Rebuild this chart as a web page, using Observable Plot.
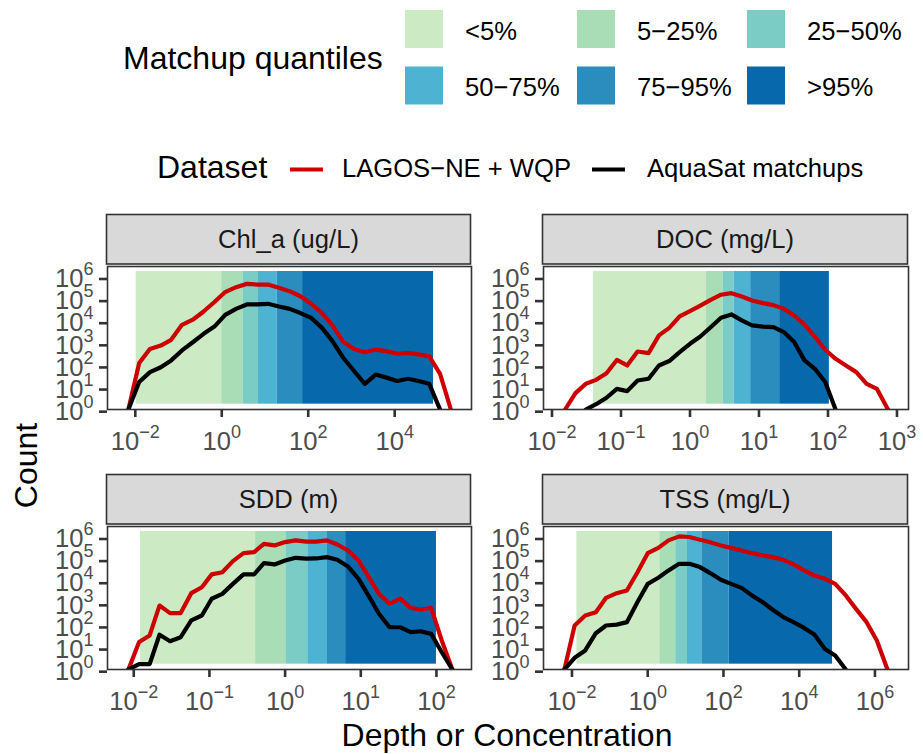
<!DOCTYPE html>
<html>
<head>
<meta charset="utf-8">
<script src="https://cdn.jsdelivr.net/npm/d3@7"></script>
<script src="https://cdn.jsdelivr.net/npm/@observablehq/plot@0.6"></script>
<style>
  body { margin: 0; background: #fff; }
  #chart { position: relative; width: 923px; height: 754px; overflow: hidden; }
</style>
</head>
<body>
<div id="chart"></div>
<script>
// ---------------- data ----------------
const quantLabels = ["<5%", "5−25%", "25−50%", "50−75%", "75−95%", ">95%"];
const quantColors = ["#CCEBC5", "#A8DDB5", "#7BCCC4", "#4EB3D3", "#2B8CBE", "#0868AC"];
const datasetLabels = ["LAGOS−NE + WQP", "AquaSat matchups"];
const datasetColors = ["#CD0000", "#000000"];
const panelTitles = ["Chl_a (ug/L)", "DOC (mg/L)", "SDD (m)", "TSS (mg/L)"];
const Z = -Infinity; // zero count -> drawn at the panel floor (like ggplot's -Inf)

// y: log10 count axis
const countTicks = [0, 1, 2, 3, 4, 5, 6];
const countDomain = [-0.241, 6.226];

// Chl_a : bin centres (log10 value), log10 counts, quantile boundaries (log10)
const chlBins = [-2.16, -1.91, -1.66, -1.41, -1.17, -0.92, -0.67, -0.42, -0.17, 0.08, 0.33, 0.58, 0.82, 1.07, 1.32, 1.57, 1.82, 2.07, 2.32, 2.56, 2.81, 3.06, 3.31, 3.56, 3.81, 4.06, 4.31, 4.55, 4.80, 5.05, 5.30];
const chlLagos = [Z, 1.86, 2.5, 2.65, 2.91, 3.59, 3.82, 4.19, 4.62, 5.07, 5.29, 5.44, 5.41, 5.41, 5.26, 5.11, 4.88, 4.54, 4.12, 3.56, 2.82, 2.5, 2.35, 2.47, 2.4, 2.28, 2.32, 2.25, 2.16, 1.37, Z];
const chlAqua = [Z, 1.0, 1.45, 1.67, 1.98, 2.43, 2.8, 3.18, 3.51, 4.04, 4.31, 4.51, 4.51, 4.54, 4.42, 4.31, 4.12, 3.9, 3.45, 2.85, 2.1, 1.5, 0.92, 1.34, 1.2, 1.05, 1.15, 1.05, 0.92, Z];
const chlQuant = [-1.98, 0.0, 0.49, 0.85, 1.28, 1.87, 4.90];
const chlTicks = [-2, 0, 2, 4];
const chlDomain = [-2.643, 5.777];

// DOC
const docBins = [-1.81, -1.66, -1.51, -1.36, -1.21, -1.06, -0.91, -0.76, -0.60, -0.45, -0.30, -0.15, 0.00, 0.15, 0.30, 0.45, 0.60, 0.75, 0.90, 1.06, 1.21, 1.36, 1.51, 1.66, 1.81, 1.96, 2.11, 2.26, 2.41, 2.56, 2.71, 2.87];
const docLagos = [Z, 0.50, 0.92, 1.10, 1.40, 2.0, 1.75, 2.38, 2.31, 3.11, 3.45, 3.97, 4.21, 4.46, 4.72, 4.95, 5.02, 4.87, 4.69, 4.57, 4.48, 4.31, 4.01, 3.60, 3.06, 2.46, 2.05, 1.75, 1.45, 0.92, 0.69, Z];
const docAqua = [null, null, Z, 0.0, 0.29, 0.69, 0.59, 1.07, 1.15, 1.75, 1.95, 2.35, 2.73, 3.06, 3.48, 3.91, 4.06, 3.79, 3.56, 3.51, 3.48, 3.26, 2.81, 1.98, 1.60, 1.0, Z];
const docQuant = [-1.40, 0.24, 0.48, 0.64, 0.88, 1.30, 2.02];
const docTicks = [-2, -1, 0, 1, 2, 3];
const docDomain = [-2.123, 3.167];

// SDD
const sddBins = [-2.07, -1.93, -1.79, -1.66, -1.52, -1.38, -1.24, -1.10, -0.97, -0.83, -0.69, -0.55, -0.41, -0.28, -0.14, 0.00, 0.14, 0.28, 0.41, 0.55, 0.69, 0.83, 0.97, 1.10, 1.24, 1.38, 1.52, 1.66, 1.79, 1.93, 2.07, 2.21];
const sddLagos = [Z, 1.0, 1.30, 2.65, 2.31, 2.31, 3.21, 3.48, 4.06, 4.16, 4.66, 5.02, 5.07, 5.44, 5.37, 5.52, 5.60, 5.54, 5.54, 5.60, 5.41, 5.14, 4.69, 3.97, 3.18, 2.73, 2.96, 2.55, 2.46, 2.55, 1.07, Z];
const sddAqua = [Z, 0, 0, 1.33, 1.04, 1.22, 1.98, 2.20, 2.96, 3.18, 3.63, 4.06, 4.06, 4.57, 4.51, 4.69, 4.81, 4.77, 4.78, 4.84, 4.72, 4.42, 3.86, 3.11, 2.28, 1.67, 1.67, 1.45, 1.49, 1.37, 0.54, Z];
const sddQuant = [-1.91, -0.39, 0.01, 0.30, 0.56, 0.80, 2.00];
const sddTicks = [-2, -1, 0, 1, 2];
const sddDomain = [-2.347, 2.463];

// TSS
const tssBins = [-2.20, -1.93, -1.65, -1.37, -1.10, -0.82, -0.55, -0.27, 0.00, 0.28, 0.55, 0.83, 1.10, 1.38, 1.65, 1.93, 2.20, 2.48, 2.75, 3.03, 3.30, 3.58, 3.85, 4.13, 4.40, 4.68, 4.95, 5.23, 5.50, 5.78, 6.05, 6.33];
const tssLagos = [Z, 1.75, 2.20, 2.35, 3.00, 3.21, 3.33, 4.16, 5.02, 5.26, 5.60, 5.78, 5.75, 5.63, 5.51, 5.37, 5.26, 5.14, 5.02, 4.92, 4.84, 4.72, 4.51, 4.24, 4.01, 3.86, 3.63, 3.11, 2.5, 1.90, 1.07, Z];
const tssAqua = [Z, 0.29, 0.62, 1.40, 1.75, 1.79, 1.90, 2.81, 3.63, 3.91, 4.24, 4.54, 4.54, 4.39, 4.12, 3.82, 3.63, 3.45, 3.11, 2.81, 2.46, 2.13, 1.90, 1.64, 1.34, 0.69, 0.39, Z];
const tssQuant = [-1.87, 0.32, 0.74, 1.05, 1.43, 2.15, 4.88];
const tssTicks = [-2, 0, 2, 4, 6];
const tssDomain = [-2.752, 6.886];

// ---------------- layout ----------------
const FONT = '"Liberation Sans", Arial, Helvetica, sans-serif';
const W = 923, H = 754;
const root = d3.select("#chart");
const deco = root.append("svg")
  .attr("width", W).attr("height", H)
  .attr("font-family", FONT)
  .style("position", "absolute").style("left", "0px").style("top", "0px");

// Legend: matchup quantiles
deco.append("text").attr("x", 123).attr("y", 68.5).attr("font-size", 32).attr("fill", "#000").text("Matchup quantiles");
const colX = [405, 577, 747];
const rowY = [10, 66.5];
quantLabels.forEach((lab, i) => {
  const c = i % 3, r = Math.floor(i / 3);
  deco.append("rect").attr("x", colX[c]).attr("y", rowY[r]).attr("width", 38).attr("height", 38).attr("fill", quantColors[i]);
  deco.append("text").attr("x", colX[c] + 60).attr("y", rowY[r] + 29.5).attr("font-size", 25.6).attr("fill", "#000").text(lab);
});

// Legend: dataset
deco.append("text").attr("x", 157).attr("y", 178.3).attr("font-size", 32).attr("fill", "#000").text("Dataset");
const keyX = [290, 592], labX = [342, 647];
datasetLabels.forEach((lab, i) => {
  deco.append("line").attr("x1", keyX[i]).attr("x2", keyX[i] + 33).attr("y1", 169.5).attr("y2", 169.5)
    .attr("stroke", datasetColors[i]).attr("stroke-width", 4.2);
  deco.append("text").attr("x", labX[i]).attr("y", 177).attr("font-size", 25.6).attr("fill", "#000").text(lab);
});

// Axis titles
deco.append("text").attr("transform", "translate(36.5,465.5) rotate(-90)").attr("text-anchor", "middle")
  .attr("font-size", 32).attr("fill", "#000").text("Count");
deco.append("text").attr("x", 507).attr("y", 746).attr("text-anchor", "middle")
  .attr("font-size", 32).attr("fill", "#000").text("Depth or Concentration");

// ---------------- panels ----------------
const panels = [
  {title: panelTitles[0], bins: chlBins, lagos: chlLagos, aqua: chlAqua, quant: chlQuant, ticks: chlTicks, domain: chlDomain, left: 106.5, top: 266, width: 364},
  {title: panelTitles[1], bins: docBins, lagos: docLagos, aqua: docAqua, quant: docQuant, ticks: docTicks, domain: docDomain, left: 542.5, top: 266, width: 365},
  {title: panelTitles[2], bins: sddBins, lagos: sddLagos, aqua: sddAqua, quant: sddQuant, ticks: sddTicks, domain: sddDomain, left: 106.5, top: 526, width: 364},
  {title: panelTitles[3], bins: tssBins, lagos: tssLagos, aqua: tssAqua, quant: tssQuant, ticks: tssTicks, domain: tssDomain, left: 542.5, top: 526, width: 365}
];

const ML = 70, MR = 20, MT = 14, MB = 50, PH = 143;
const sup = e => "10^" + (e < 0 ? "−" + (-e) : String(e));
const expOf = d => Math.round(Math.log10(d));

panels.forEach(p => {
  // strip
  deco.append("rect").attr("x", p.left).attr("y", p.top - 51.5).attr("width", p.width).attr("height", 49.5)
    .attr("fill", "#D9D9D9").attr("stroke", "#333333").attr("stroke-width", 1.6);
  deco.append("text").attr("x", p.left + p.width / 2).attr("y", p.top - 17.7).attr("text-anchor", "middle")
    .attr("font-size", 25.6).attr("fill", "#1A1A1A").text(p.title);

  const floor = 10 ** countDomain[0];
  const rects = quantLabels.map((k, i) => ({
    k, x1: 10 ** p.quant[i], x2: 10 ** p.quant[i + 1],
    y1: 10 ** countTicks[0], y2: 10 ** countTicks[countTicks.length - 1]
  }));
  const series = (vals, name) => vals
    .map((v, i) => v == null ? null : {x: 10 ** p.bins[i], y: v === Z ? floor : 10 ** v, name})
    .filter(Boolean);
  const lines = [...series(p.lagos, datasetLabels[0]), ...series(p.aqua, datasetLabels[1])];

  const plot = Plot.plot({
    width: ML + p.width + MR,
    height: MT + PH + MB,
    marginLeft: ML, marginRight: MR, marginTop: MT, marginBottom: MB,
    style: {overflow: "visible", background: "transparent", fontFamily: FONT, color: "#333333"},
    x: {type: "log", domain: p.domain.map(e => 10 ** e), label: null},
    y: {type: "log", domain: countDomain.map(e => 10 ** e), label: null},
    color: {domain: [...quantLabels, ...datasetLabels], range: [...quantColors, ...datasetColors]},
    marks: [
      Plot.rect(rects, {x1: "x1", x2: "x2", y1: "y1", y2: "y2", fill: "k"}),
      Plot.line(lines, {x: "x", y: "y", z: "name", stroke: "name", strokeWidth: 4.2, clip: true}),
      Plot.frame({stroke: "#333333", strokeWidth: 1.6}),
      Plot.axisX({ticks: p.ticks.map(e => 10 ** e), tickFormat: d => sup(expOf(d)), tickSize: 8, tickPadding: 14.4,
                  fontSize: 25.6, strokeWidth: 2.6, label: null}),
      Plot.axisY({ticks: countTicks.map(e => 10 ** e), tickFormat: d => sup(expOf(d)), tickSize: 8, tickPadding: 6,
                  fontSize: 25.6, strokeWidth: 2.6, dy: 7.5, label: null})
    ]
  });

  // superscript exponents on tick labels
  d3.select(plot).selectAll("text").each(function () {
    const s = this.textContent;
    if (!s.includes("^")) return;
    const [b, e] = s.split("^");
    this.textContent = "";
    const t = d3.select(this).attr("fill", "#4D4D4D");
    t.append("tspan").text(b);
    t.append("tspan").attr("dy", -12).attr("font-size", 18).text(e);
  });

  plot.style.position = "absolute";
  plot.style.left = (p.left - ML) + "px";
  plot.style.top = (p.top - MT) + "px";
  plot.style.maxWidth = "none";
  root.node().appendChild(plot);
});
</script>
</body>
</html>
